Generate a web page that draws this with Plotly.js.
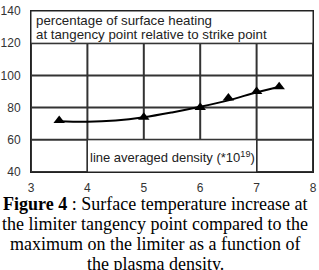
<!DOCTYPE html>
<html>
<head>
<meta charset="utf-8">
<script src="https://cdn.plot.ly/plotly-3.0.1.min.js"></script>
<style>
  html, body { margin: 0; padding: 0; background: #fff; }
  #chart { width: 319px; height: 270px; }
</style>
</head>
<body>
<div id="chart"></div>
<script>
// Measured points: line averaged density vs. surface heating ratio (%)
const density = [3.5, 5, 6, 6.5, 7, 7.4];
const heating = [72, 74, 80, 86, 90, 93];

// Smooth trend drawn through the measurements
const trendDensity = [3.5, 4, 4.5, 5, 5.5, 6, 6.5, 7, 7.4];
const trendHeating = [71.5, 71.2, 72, 74, 77, 80.5, 84.5, 89.5, 93];

const xTicks = [3, 4, 5, 6, 7, 8];
const yTicks = [40, 60, 80, 100, 120, 140];

const gridColor = '#333';
const frameColor = '#222';
const sans = 'Liberation Sans, Arial, sans-serif';
const serif = 'Liberation Serif, Times New Roman, serif';

const headerLines = [
  'percentage of surface heating',
  'at tangency point relative to strike point'
];
const captionLines = [
  '<b>Figure 4</b> : Surface temperature increase at',
  'the limiter tangency point compared to the',
  'maximum on the limiter as a function of',
  'the plasma density.'
];

// Grid drawn as one broken line trace built from the tick positions
const xMin = xTicks[0], xMax = xTicks[xTicks.length - 1];
const yMin = yTicks[0], yMax = yTicks[yTicks.length - 1];
const gridX = [], gridY = [];
xTicks.forEach(t => { gridX.push(t, t, null); gridY.push(yMin, yMax, null); });
yTicks.forEach(t => { gridX.push(xMin, xMax, null); gridY.push(t, t, null); });

const traces = [
  {
    x: gridX, y: gridY,
    mode: 'lines', type: 'scatter', connectgaps: false,
    line: { color: gridColor, width: 2 },
    hoverinfo: 'skip'
  },
  {
    x: trendDensity, y: trendHeating,
    mode: 'lines', type: 'scatter',
    line: { color: '#000', width: 2, shape: 'spline' },
    hoverinfo: 'skip'
  },
  {
    x: density, y: heating,
    mode: 'markers', type: 'scatter',
    marker: { symbol: 'triangle-up', size: 10, color: '#000' }
  }
];

// Label boxes that blank out the grid
const boxShapes = [
  {
    type: 'rect', xref: 'x', yref: 'y', layer: 'above',
    x0: 3, x1: 8, y0: 120, y1: 140,
    fillcolor: '#fff', line: { color: frameColor, width: 1 }
  },
  {
    type: 'rect', xref: 'x', yref: 'y', layer: 'above',
    x0: 4, x1: 7, y0: 40, y1: 60,
    fillcolor: '#fff', line: { color: frameColor, width: 1 }
  }
];

const layout = {
  width: 319, height: 270,
  margin: { l: 31, r: 6, t: 11, b: 98 },
  paper_bgcolor: '#fff', plot_bgcolor: '#fff',
  showlegend: false,
  font: { family: sans, color: '#333', size: 12 },
  xaxis: {
    range: [3, 8], tickvals: xTicks, ticktext: xTicks.map(String),
    showgrid: true, gridcolor: gridColor, gridwidth: 1,
    showline: true, linecolor: frameColor, linewidth: 1, mirror: true,
    zeroline: false, ticks: '', ticklabelstandoff: 5,
    tickfont: { size: 12, color: '#333', family: sans }
  },
  yaxis: {
    range: [40, 140], tickvals: yTicks, ticktext: yTicks.map(String),
    showgrid: true, gridcolor: gridColor, gridwidth: 1,
    showline: true, linecolor: frameColor, linewidth: 1, mirror: true,
    zeroline: false, ticks: '', ticklabelstandoff: 7,
    tickfont: { size: 12, color: '#333', family: sans }
  },
  shapes: boxShapes,
  annotations: headerLines.map((t, i) => ({
    xref: 'paper', yref: 'y', x: 0.012, y: 134.2 - i * 8.7,
    xanchor: 'left', yanchor: 'middle', align: 'left', showarrow: false,
    text: t,
    font: { size: 13.3, color: '#222', family: sans }
  })).concat([
    {
      xref: 'x', yref: 'y', x: 5.5, y: 49.5, xanchor: 'center', yanchor: 'middle',
      showarrow: false,
      text: 'line averaged density (*10<sup>19</sup>)',
      font: { size: 13, color: '#222', family: sans }
    }
  ]).concat(captionLines.map((t, i) => ({
    xref: 'paper', yref: 'paper', x: 0.44, y: -0.2 - i * 0.124,
    xanchor: 'center', yanchor: 'middle', showarrow: false,
    text: t,
    font: { size: 18, color: '#000', family: serif }
  })))
};

Plotly.newPlot('chart', traces, layout, { displayModeBar: false, staticPlot: true });
</script>
</body>
</html>
